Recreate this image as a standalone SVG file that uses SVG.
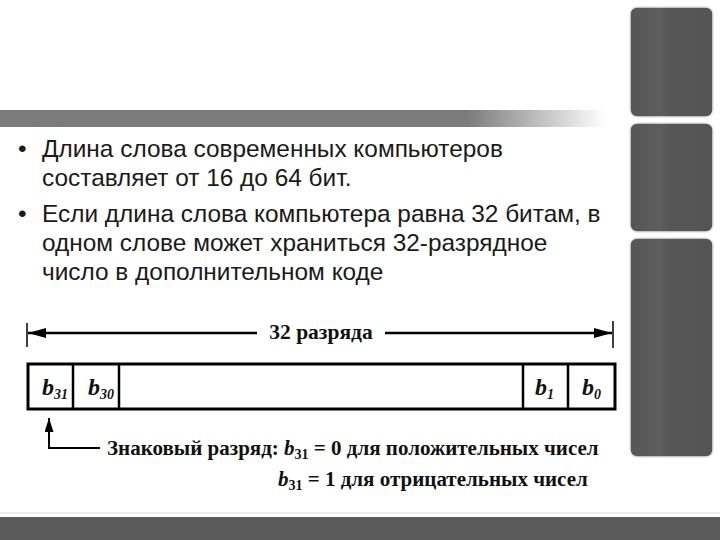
<svg xmlns="http://www.w3.org/2000/svg" width="720" height="540" viewBox="0 0 720 540">
<defs>
<linearGradient id="band" x1="0" y1="0" x2="1" y2="0">
<stop offset="0" stop-color="#7b7b7b"/>
<stop offset="0.77" stop-color="#7b7b7b"/>
<stop offset="1" stop-color="#7b7b7b" stop-opacity="0"/>
</linearGradient>
<linearGradient id="panel" x1="0" y1="0" x2="1" y2="0">
<stop offset="0" stop-color="#565656"/>
<stop offset="0.2" stop-color="#5a5a5a"/>
<stop offset="0.35" stop-color="#5e5e5e"/>
<stop offset="0.5" stop-color="#565656"/>
<stop offset="1" stop-color="#555555"/>
</linearGradient>
<marker id="ah" viewBox="0 0 18 10" refX="18" refY="5" markerWidth="18" markerHeight="10" markerUnits="userSpaceOnUse" orient="auto">
<path d="M0,0 L18,5 L0,10 Z" fill="#000"/>
</marker>
<marker id="ahu" viewBox="0 0 14 9" refX="14" refY="4.5" markerWidth="14" markerHeight="9" markerUnits="userSpaceOnUse" orient="auto">
<path d="M0,0 L14,4.5 L0,9 Z" fill="#000"/>
</marker>
</defs>
<style>
.bul{font-family:"Liberation Sans",Arial,sans-serif;font-size:24.4px;fill:#1a1a1a}
.ser{font-family:"Liberation Serif","Times New Roman",serif;font-weight:bold;fill:#111}
.bit{font-family:"Liberation Serif","Times New Roman",serif;font-weight:bold;font-style:italic;fill:#111}
.pn{fill:url(#panel);stroke:#e6e6e6;stroke-width:1.5}
.ln{stroke:#000;fill:none}
</style>
<rect width="720" height="540" fill="#fff"/>
<rect x="0" y="110" width="606" height="17" fill="url(#band)"/>
<g id="panels">
<rect class="pn" x="630" y="7" width="83" height="110" rx="7"/>
<rect class="pn" x="630" y="123" width="83" height="109" rx="7"/>
<rect class="pn" x="630" y="238" width="83" height="219" rx="7"/>
</g>
<line x1="0" y1="513" x2="720" y2="513" stroke="#e4e4e4" stroke-width="1.5"/>
<rect x="0" y="517" width="720" height="23" fill="#5a5a5a"/>
<g id="bullets">
<text class="bul" x="18" y="157">•</text>
<text class="bul" x="42" y="157">Длина слова современных компьютеров</text>
<text class="bul" x="42" y="186">составляет от 16 до 64 бит.</text>
<text class="bul" x="18" y="222">•</text>
<text class="bul" x="42" y="222">Если длина слова компьютера равна 32 битам, в</text>
<text class="bul" x="42" y="251">одном слове может храниться 32-разрядное</text>
<text class="bul" x="42" y="280">число в дополнительном коде</text>
</g>
<g id="connectors">
<line class="ln" x1="27" y1="323" x2="27" y2="347" stroke-width="1.5"/>
<line class="ln" x1="613" y1="321" x2="613" y2="348" stroke-width="1.5"/>
<line class="ln" x1="257" y1="333" x2="28" y2="333" stroke-width="2.5" marker-end="url(#ah)"/>
<line class="ln" x1="385" y1="333" x2="612" y2="333" stroke-width="2.5" marker-end="url(#ah)"/>
<polyline class="ln" points="100,448 49,448 49,418" stroke-width="2" marker-end="url(#ahu)"/>
</g>
<text class="ser" x="321" y="339" font-size="21.5" text-anchor="middle">32 разряда</text>
<g id="register">
<rect x="28" y="364" width="587" height="45" fill="#fff" stroke="#000" stroke-width="3"/>
<line class="ln" x1="73" y1="364" x2="73" y2="409" stroke-width="2.5"/>
<line class="ln" x1="119" y1="364" x2="119" y2="409" stroke-width="2.5"/>
<line class="ln" x1="523" y1="364" x2="523" y2="409" stroke-width="2.5"/>
<line class="ln" x1="568" y1="364" x2="568" y2="409" stroke-width="2.5"/>
<text class="bit" x="42" y="395" font-size="24">b<tspan font-size="14" dy="4">31</tspan></text>
<text class="bit" x="88" y="395" font-size="24">b<tspan font-size="14" dy="4">30</tspan></text>
<text class="bit" x="535" y="395" font-size="24">b<tspan font-size="14" dy="4">1</tspan></text>
<text class="bit" x="582" y="395" font-size="24">b<tspan font-size="14" dy="4">0</tspan></text>
</g>
<g id="legend">
<text class="ser" x="107" y="455" font-size="21">Знаковый разряд: <tspan font-style="italic">b</tspan><tspan font-size="14" dy="4">31</tspan><tspan dy="-4"> = 0 для положительных чисел</tspan></text>
<text class="ser" x="278" y="486" font-size="21"><tspan font-style="italic">b</tspan><tspan font-size="14" dy="4">31</tspan><tspan dy="-4"> = 1 для отрицательных чисел</tspan></text>
</g>
</svg>
